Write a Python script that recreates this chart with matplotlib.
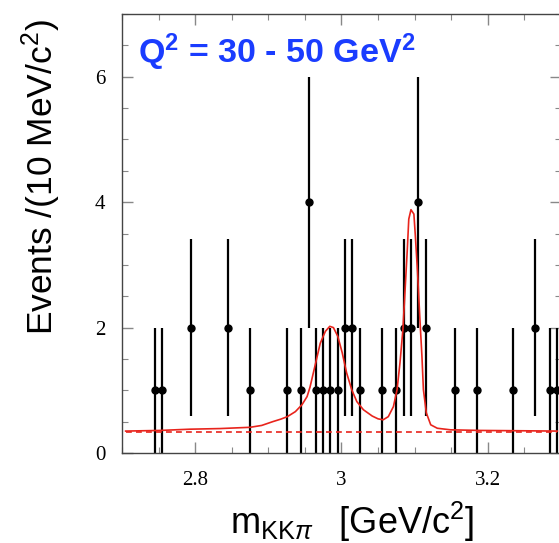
import matplotlib

matplotlib.use("Agg")
import matplotlib.pyplot as plt
from matplotlib.ticker import MultipleLocator

# ---- data (10 MeV bins, counts with sqrt(N) errors)
MASS = [2.745, 2.755, 2.795, 2.845, 2.875, 2.925, 2.945, 2.955, 2.965, 2.975,
        2.985, 2.995, 3.005, 3.015, 3.025, 3.055, 3.075, 3.085, 3.095, 3.105,
        3.115, 3.155, 3.185, 3.235, 3.265, 3.285, 3.295]
COUNTS = [1, 1, 2, 2, 1, 1, 1, 4, 1, 1,
          1, 1, 2, 2, 1, 1, 1, 2, 2, 4,
          2, 1, 1, 1, 2, 1, 1]
ERR = [1.0, 1.0, 1.41, 1.41, 1.0, 1.0, 1.0, 2.0, 1.0, 1.0,
       1.0, 1.0, 1.41, 1.41, 1.0, 1.0, 1.0, 1.41, 1.41, 2.0,
       1.41, 1.0, 1.0, 1.0, 1.41, 1.0, 1.0]

# fit curve, points
FIT_X = [2.705, 2.752, 2.793, 2.834, 2.875, 2.891, 2.906, 2.917, 2.926, 2.937,
         2.946, 2.953, 2.957, 2.964, 2.971, 2.978, 2.984, 2.989, 2.995, 3.001,
         3.007, 3.014, 3.021, 3.030, 3.042, 3.050, 3.057, 3.064, 3.071, 3.076,
         3.080, 3.084, 3.087, 3.090, 3.092, 3.095, 3.099, 3.101, 3.104, 3.107,
         3.110, 3.112, 3.116, 3.122, 3.131, 3.149, 3.190, 3.245, 3.295]
FIT_Y = [0.35, 0.36, 0.38, 0.39, 0.41, 0.44, 0.50, 0.54, 0.58, 0.66,
         0.77, 0.90, 1.05, 1.40, 1.75, 1.94, 2.02, 2.00, 1.86, 1.60,
         1.28, 1.01, 0.82, 0.69, 0.59, 0.545, 0.53, 0.58, 0.74, 1.01,
         1.44, 1.97, 2.61, 3.25, 3.73, 3.88, 3.81, 3.46, 2.88, 2.18,
         1.54, 1.01, 0.64, 0.45, 0.395, 0.37, 0.36, 0.355, 0.35]
BKG_X = [2.705, 3.295]
BKG_Y = [0.34, 0.34]

TITLE = r"Q$^{\mathbf{2}}$ = 30 - 50 GeV$^{\mathbf{2}}$"
XLABEL = r"m$_{\mathrm{KK}\pi}$$\;\;$ [GeV/c$^{2}$]"
YLABEL = r"Events /(10 MeV/c$^{2}$)"

plt.rcParams["mathtext.fontset"] = "custom"
plt.rcParams["mathtext.rm"] = "Liberation Sans"
plt.rcParams["mathtext.it"] = "Liberation Sans:italic"
plt.rcParams["mathtext.bf"] = "Liberation Sans:bold"

fig = plt.figure(figsize=(5.59, 5.43), dpi=100)
ax = fig.add_axes([0.2182, 0.1657, 0.7853, 0.8085])

ax.errorbar(MASS, COUNTS, yerr=ERR, fmt="o", color="black", ms=5,
            elinewidth=1.6, capsize=0, zorder=2)
ax.plot(FIT_X, FIT_Y, color="#e8241c", lw=1.2, zorder=3)
ax.plot(BKG_X, BKG_Y, color="#e8241c", lw=1.2, ls=(0, (3.5, 2.5)), zorder=3)

ax.set_xlim(2.7, 3.3)
ax.set_ylim(0, 7)
ax.xaxis.set_major_locator(MultipleLocator(0.2))
ax.xaxis.set_minor_locator(MultipleLocator(0.05))
ax.yaxis.set_major_locator(MultipleLocator(2))
ax.yaxis.set_minor_locator(MultipleLocator(0.5))
ax.set_xticks([2.8, 3.0, 3.2])
ax.set_xticklabels(["2.8", "3", "3.2"])
ax.tick_params(which="both", direction="in", top=True, right=True, color="#888888")
ax.tick_params(which="major", length=8, width=1)
ax.tick_params(which="minor", length=4.5, width=0.8)
ax.tick_params(axis="x", pad=13)
ax.tick_params(axis="y", pad=12)
for lab in ax.get_xticklabels() + ax.get_yticklabels():
    lab.set_fontfamily("Liberation Serif")
    lab.set_fontsize(15)
for s in ax.spines.values():
    s.set_color("#444444")
    s.set_linewidth(1)

ax.text(0.037, (453 - 52) / 439, TITLE, transform=ax.transAxes, color="#1a3cff",
        fontsize=24.5, fontweight="bold", family="Liberation Sans", va="center")

fig.text(352 / 559, 1 - 522 / 543, XLABEL,
         fontsize=26, family="Liberation Sans", ha="center", va="center")
fig.text(41 / 559, 1 - 177 / 543, YLABEL,
         fontsize=25.5, family="Liberation Sans", ha="center", va="center",
         rotation=90)

fig.savefig("out.png", dpi=100)
